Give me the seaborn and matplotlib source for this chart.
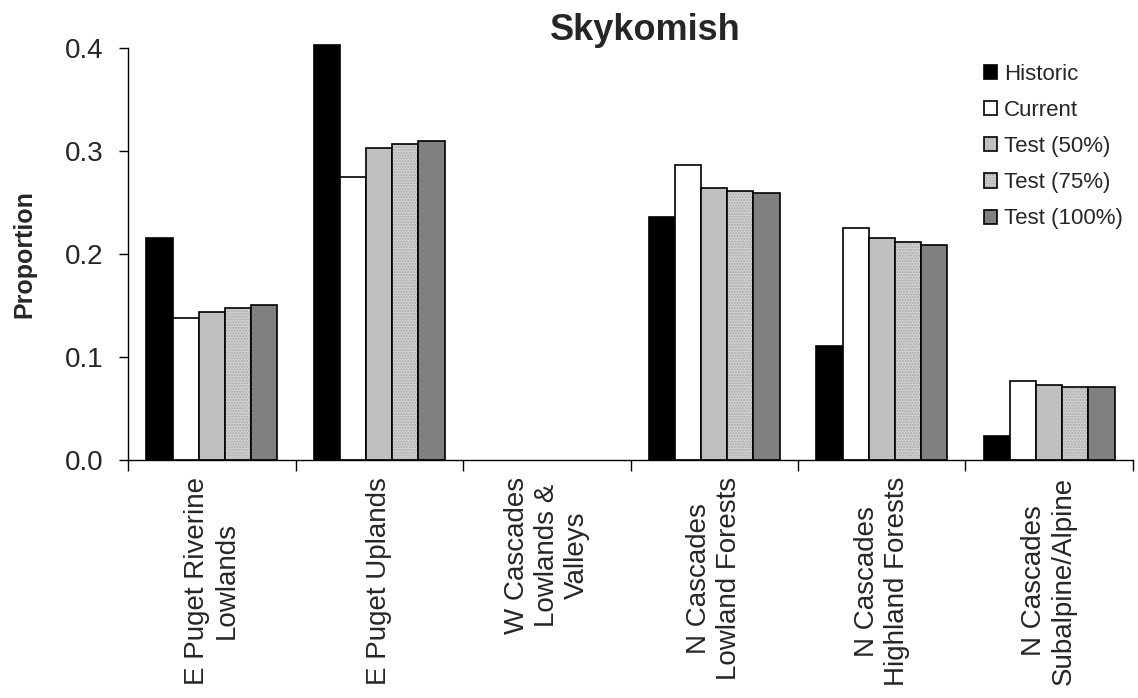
import numpy as np
import pandas as pd
import matplotlib
matplotlib.use("Agg")
import matplotlib.pyplot as plt
import seaborn as sns
from matplotlib.patches import Patch
from matplotlib.colors import to_rgba

categories = ["E Puget Riverine\nLowlands", "E Puget Uplands", "W Cascades\nLowlands &\nValleys",
              "N Cascades\nLowland Forests", "N Cascades\nHighland Forests", "N Cascades\nSubalpine/Alpine"]
series = ["Historic", "Current", "Test (50%)", "Test (75%)", "Test (100%)"]
historic = [0.216, 0.403, 0.0, 0.236, 0.1105, 0.0229]
current = [0.1377, 0.275, 0.0, 0.2863, 0.2253, 0.0767]
test50 = [0.1438, 0.3035, 0.0, 0.2642, 0.2153, 0.0728]
test75 = [0.1477, 0.3067, 0.0, 0.2610, 0.2120, 0.0712]
test100 = [0.1507, 0.3100, 0.0, 0.2594, 0.2085, 0.0712]
yticks = [0.0, 0.1, 0.2, 0.3, 0.4]

colors = ["#000000", "#ffffff", "#c0c0c0", "#d2d2d2", "#808080"]

rows = []
for s, vals in zip(series, [historic, current, test50, test75, test100]):
    for c, v in zip(categories, vals):
        rows.append({"Region": c, "Series": s, "Proportion": v})
df = pd.DataFrame(rows)

sns.set_style("white")
plt.rcParams["font.family"] = ["Liberation Sans", "DejaVu Sans"]

fig = plt.figure(figsize=(11.38, 6.98), dpi=100)
ax = fig.add_axes([0.1125, 0.341, 0.8831, 0.590])

sns.barplot(data=df, x="Region", y="Proportion", hue="Series", order=categories,
            hue_order=series, palette=colors, width=0.78, edgecolor="black",
            linewidth=1.2, saturation=1, legend=False, ax=ax)

# styling bars
for cont, s in zip(ax.containers, series):
    for p in cont.patches:
        p.set_clip_on(False)
        if p.get_height() == 0:
            p.set_linewidth(0)
        if s == "Test (75%)":
            p.set_hatch("......")
            p._hatch_color = to_rgba("#a8a8a8")

ax.set_ylim(0, 0.4)
ax.set_xlim(-0.5, len(categories) - 0.5)
ax.set_yticks(yticks)
ax.set_yticklabels([f"{t:.1f}" for t in yticks], fontsize=20)
ax.set_xticks(range(len(categories)))
ax.set_xticklabels(categories, rotation=90, fontsize=20, ha="center", va="top",
                   multialignment="center")
ax.set_xticks(np.arange(-0.5, len(categories), 1.0), minor=True)
ax.tick_params(axis="x", which="major", length=0, pad=12)
ax.tick_params(axis="x", which="minor", length=8, width=1, direction="out", color="black")
ax.tick_params(axis="y", which="major", length=6.5, width=1, direction="out", color="black", pad=11)
ax.yaxis.set_ticks_position("left")
ax.xaxis.set_ticks_position("bottom")

for side in ["top", "right"]:
    ax.spines[side].set_visible(False)
for side in ["left", "bottom"]:
    ax.spines[side].set_color("black")
    ax.spines[side].set_linewidth(1)

ax.set_xlabel("")
ax.set_ylabel("Proportion", fontsize=18, fontweight="bold", labelpad=21)
ax.set_title("Skykomish", fontsize=26, fontweight="bold", pad=2, x=0.515)

handles = []
for s, c in zip(series, colors):
    h = Patch(facecolor=c, edgecolor="black", linewidth=1.2, label=s,
              hatch="......" if s == "Test (75%)" else None)
    if s == "Test (75%)":
        h._hatch_color = to_rgba("#a8a8a8")
    handles.append(h)
leg = fig.legend(handles=handles, loc="upper left", bbox_to_anchor=(0.857, 0.921),
                 frameon=False, fontsize=16, handlelength=0.6, handleheight=0.6,
                 handletextpad=0.3, labelspacing=0.68, borderaxespad=0)

fig.savefig("out.png", dpi=100)
